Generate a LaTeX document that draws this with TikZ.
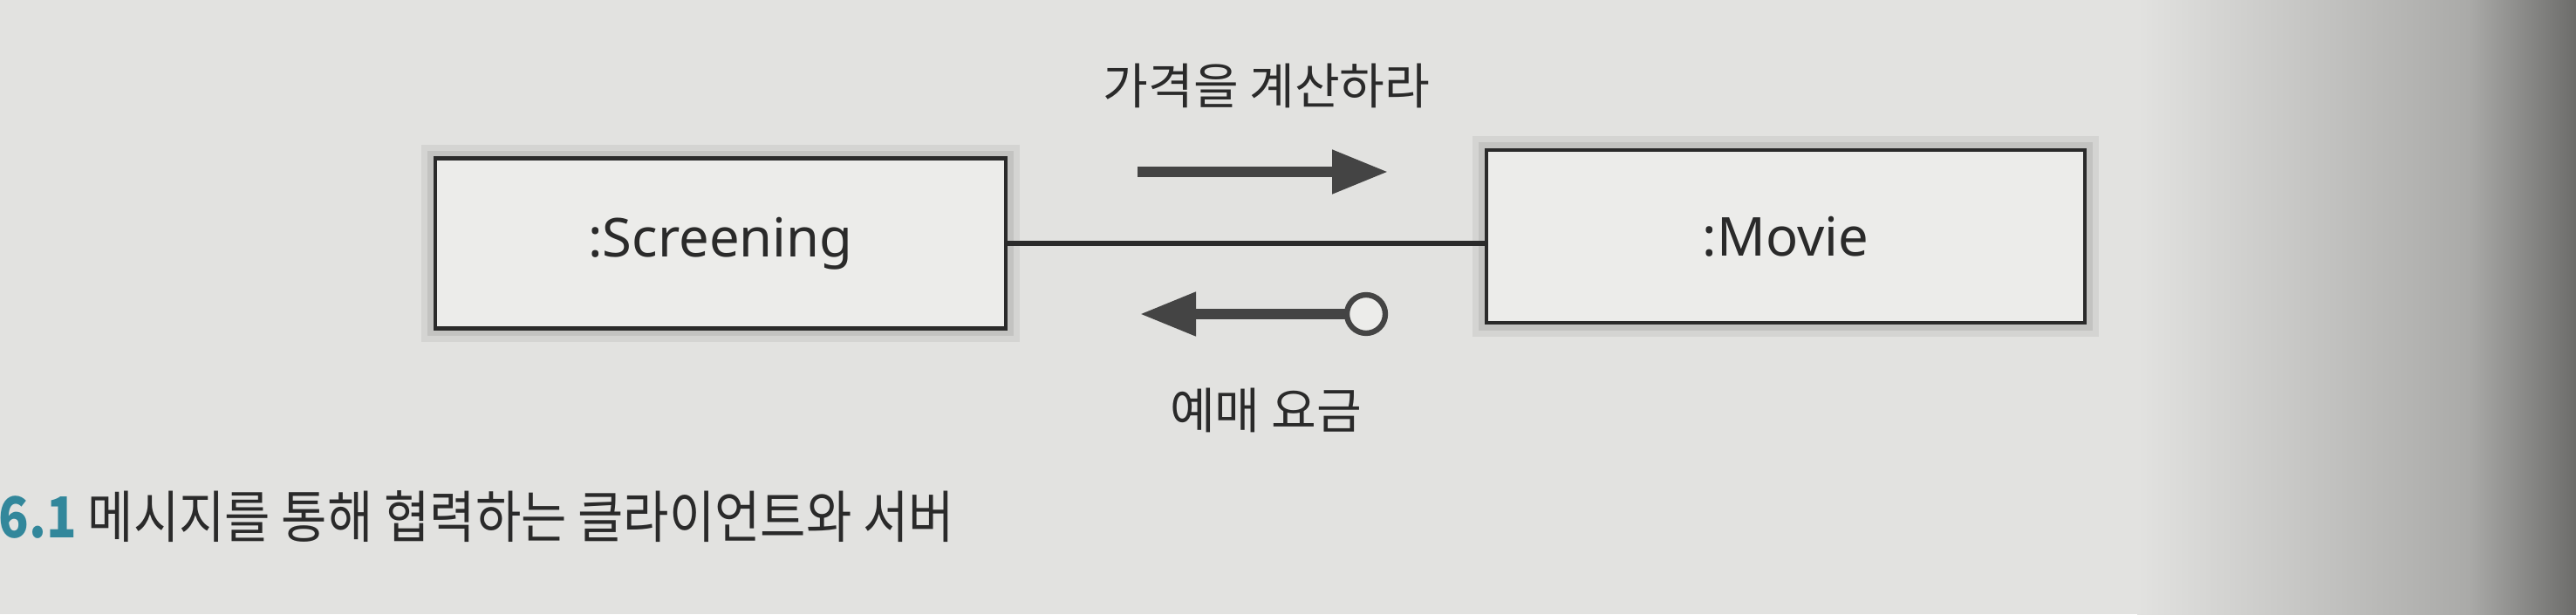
\documentclass[tikz,border=0pt]{standalone}
\usepackage{fontspec}
\setmainfont{Noto Sans}
\newfontfamily\krfont{Noto Sans CJK KR}
\newfontfamily\krcapfont[FakeStretch=0.88]{Noto Sans CJK KR}
\usetikzlibrary{arrows.meta, calc}
\definecolor{pagegray}{RGB}{226,226,224}
\definecolor{boxfill}{RGB}{236,236,234}
\definecolor{inkgray}{RGB}{42,42,42}
\definecolor{arrowgray}{RGB}{68,68,68}
\definecolor{capteal}{RGB}{50,135,155}
\definecolor{edgegray}{RGB}{170,170,168}
\definecolor{darkgray}{RGB}{108,108,106}

\begin{document}
\begin{tikzpicture}[
        objbox/.style={draw=inkgray, fill=boxfill, line width=1.4pt, minimum width=#1,
            inner sep=0pt, text=inkgray, font=\fontsize{17.5}{21}\selectfont,
            preaction={draw=black, draw opacity=0.06, line width=9pt},
            preaction={draw=black, draw opacity=0.08, line width=5pt}},
        msglabel/.style={text=inkgray, font=\krfont\fontsize{16}{19}\selectfont},
        msgarrow/.style={arrowgray, line width=3.2pt, -{Triangle[length=0.64cm, width=0.48cm]}}
    ]
    \useasboundingbox (0,0) rectangle (29.53,7.04);

    % page
    \fill [pagegray] (0,0) rectangle (29.53,7.04);
    \shade [left color=pagegray, right color=edgegray] (24.5,0) rectangle (28.3,7.04);
    \shade [left color=edgegray, right color=darkgray] (28.3,0) rectangle (29.53,7.04);

    \node [objbox=6.54cm, minimum height=1.95cm] (screening) at (8.26,4.25) {:Screening};
    \node [objbox=6.86cm, minimum height=1.98cm] (movie) at (20.47,4.33) {:Movie};

    \draw [inkgray, line width=1.6pt] (screening.east) -- (screening.east -| movie.west);

    \coordinate (callstart) at (13.04,5.07);
    \coordinate (callend) at (15.91,5.07);
    \coordinate (replytip) at (13.07,3.44);
    \coordinate (replydot) at (15.66,3.44);

    \draw [msgarrow] (callstart) -- (callend);
    \draw [msgarrow] (replydot) -- (replytip);
    \draw [arrowgray, fill=boxfill, line width=1.8pt] (replydot) circle (0.22);

    \node [msglabel] (calllabel) at (14.52,6.06) {가격을 계산하라};
    \node [msglabel] (replylabel) at (14.51,2.34) {예매 요금};

    % caption
    \node [anchor=west, inner sep=0pt, text=inkgray, font=\krcapfont\fontsize{18.4}{22}\selectfont]
        (caption) at (-0.02,1.12) {\textcolor{capteal}{\bfseries 6.1} 메시지를 통해 협력하는 클라이언트와 서버};
\end{tikzpicture}
\end{document}
